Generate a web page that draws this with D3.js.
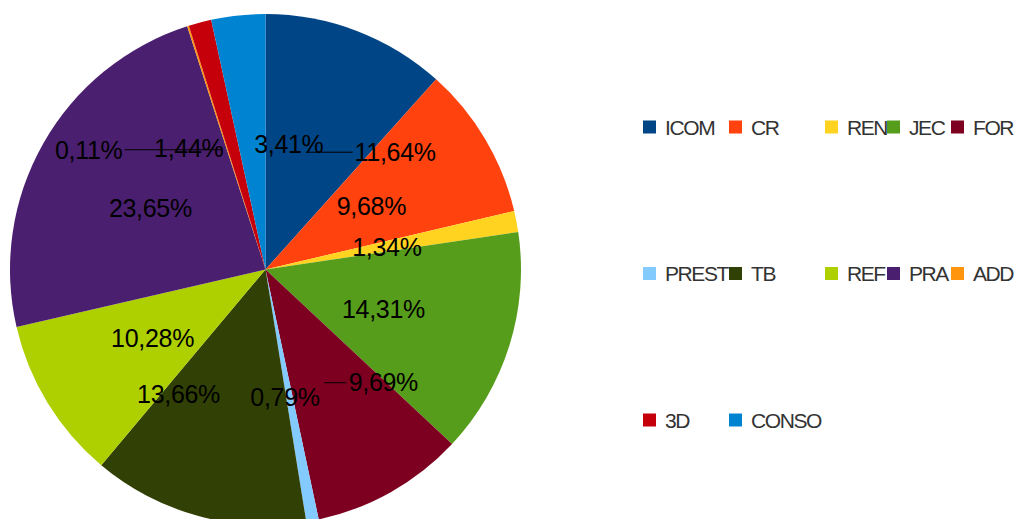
<!DOCTYPE html>
<html>
<head>
<meta charset="utf-8">
<script src="https://cdn.jsdelivr.net/npm/d3@7/dist/d3.min.js"></script>
<style>
  body { margin: 0; background: #fff; }
  svg { display: block; }
  .lbl { font-family: "Liberation Sans", Arial, sans-serif; font-size: 25px; letter-spacing: -0.3px; fill: #000; }
  .leg text { font-family: "Liberation Sans", Arial, sans-serif; font-size: 21px; letter-spacing: -1.4px; fill: #333; }
</style>
</head>
<body>
<div id="chart"></div>
<script>
// data
var categories = ["ICOM", "CR", "REN", "JEC", "FOR", "PREST", "TB", "REF", "PRA", "ADD", "3D", "CONSO"];
var values = [11.64, 9.68, 1.34, 14.31, 9.69, 0.79, 13.66, 10.28, 23.65, 0.11, 1.44, 3.41];
var colors = ["#004586", "#ff420e", "#ffd320", "#579d1c", "#7e0021", "#83caff",
              "#314004", "#aecf00", "#4b1f6f", "#ff950e", "#c5000b", "#0084d1"];

// label nudges (px, horizontal) where labels would overlap
var labelShift = { "ICOM": 88, "FOR": 59, "TB": -49, "ADD": -134, "3D": -40, "CONSO": 41 };
var withLeader = ["ICOM", "FOR", "ADD"];

var width = 1020, height = 519,
    cx = 265.5, cy = 269.5, radius = 255.5;

var svg = d3.select("#chart").append("svg")
    .attr("width", width).attr("height", height);

var pie = d3.pie().sort(null).value(function(d) { return d.value; });
var arc = d3.arc().innerRadius(0).outerRadius(radius);
var labelArc = d3.arc().innerRadius(radius * 0.5).outerRadius(radius * 0.5);

var data = categories.map(function(c, i) { return { name: c, value: values[i], color: colors[i] }; });
var arcs = pie(data);

var g = svg.append("g").attr("transform", "translate(" + cx + "," + cy + ")");

g.selectAll("path.slice")
    .data(arcs)
    .enter().append("path")
    .attr("class", "slice")
    .attr("d", arc)
    .attr("fill", function(d) { return d.data.color; });

var fmt = function(v) { return v.toFixed(2).replace(".", ",") + "%"; };

var lines = g.append("g");
var labels = g.append("g");

arcs.forEach(function(d) {
    var c = labelArc.centroid(d);
    var p = [c[0] - 4, c[1] + 2];
    var shift = labelShift[d.data.name] || 0;
    var t = labels.append("text")
        .attr("class", "lbl")
        .attr("x", p[0] + shift)
        .attr("y", p[1])
        .attr("dy", "0.35em")
        .attr("text-anchor", "middle")
        .text(fmt(d.data.value));
    if (withLeader.indexOf(d.data.name) >= 0) {
        var w = t.node().getComputedTextLength();
        var edge = shift > 0 ? p[0] + shift - w / 2 - 2 : p[0] + shift + w / 2 + 2;
        lines.append("line")
            .attr("x1", p[0]).attr("y1", p[1])
            .attr("x2", edge).attr("y2", p[1])
            .attr("stroke", "#000").attr("stroke-width", 1);
    }
});

// legend
var legCols = [643, 729, 825, 887, 951];
var legRows = [127, 273.5, 420];
var leg = svg.append("g").attr("class", "leg");
data.forEach(function(d, i) {
    var x = legCols[i % 5], y = legRows[Math.floor(i / 5)];
    leg.append("rect")
        .attr("x", x).attr("y", y - 6.5)
        .attr("width", 13).attr("height", 13)
        .attr("fill", d.color);
    leg.append("text")
        .attr("x", x + 22).attr("y", y + 7.5)
        .text(d.name);
});
</script>
</body>
</html>
